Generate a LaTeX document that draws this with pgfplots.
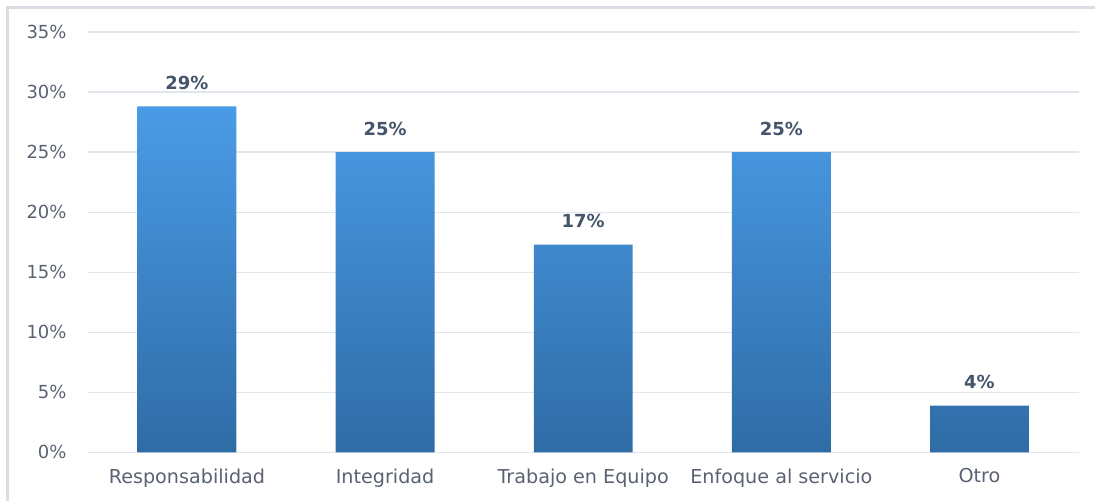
\documentclass[border=0pt]{standalone}
\usepackage{pgfplots}
\pgfplotsset{compat=1.18}
\usepackage{fontspec}
\setmainfont{DejaVu Sans}
\definecolor{barTop}{HTML}{4A9BE6}
\definecolor{barBot}{HTML}{2F6CA6}
\definecolor{tickgray}{HTML}{5A6272}
\definecolor{labelgray}{HTML}{44546A}
\definecolor{gridgray}{HTML}{E2E6EC}
\definecolor{framegray}{HTML}{D9DEE4}
\begin{document}
\begin{tikzpicture}
\begin{axis}[
    scale only axis,
    width=496pt, height=210.5pt,
    xmin=-0.5, xmax=4.5,
    ymin=0, ymax=35,
    ytick={0,5,...,35},
    yticklabel={\pgfmathprintnumber{\tick}\%},
    xtick=data,
    xticklabels={Responsabilidad, Integridad, Trabajo en Equipo, Enfoque al servicio, Otro},
    axis line style={draw=none},
    major tick length=0pt,
    ymajorgrids,
    major grid style={color=gridgray, line width=0.6pt},
    tick label style={font=\fontsize{9}{10}\selectfont, text=tickgray},
    yticklabel style={anchor=east, inner sep=0pt, xshift=-10.5pt},
    xticklabel style={anchor=north, inner sep=0pt, yshift=-8pt, font=\fontsize{9.6}{11}\selectfont},
    /pgf/number format/assume math mode=true,
    ybar, bar width=49.5pt,
    nodes near coords={\pgfmathprintnumber[fixed,precision=0]{\pgfplotspointmeta}\%},
    nodes near coords style={anchor=south, inner sep=0pt, yshift=8pt,
        font=\fontsize{9}{10}\selectfont\bfseries, text=labelgray},
]
\addplot[draw=none, top color=barTop, bottom color=barBot] coordinates {
    (0, 28.8) (1, 25.0) (2, 17.3) (3, 25.0) (4, 3.9)
};
\end{axis}
\draw[framegray, line width=1.5pt] (-40pt,-24.5pt) -- (-40pt,222.75pt) -- (504pt,222.75pt);
\path[use as bounding box] (-44pt,-24.5pt) rectangle (504pt,226.5pt);
\end{tikzpicture}
\end{document}
